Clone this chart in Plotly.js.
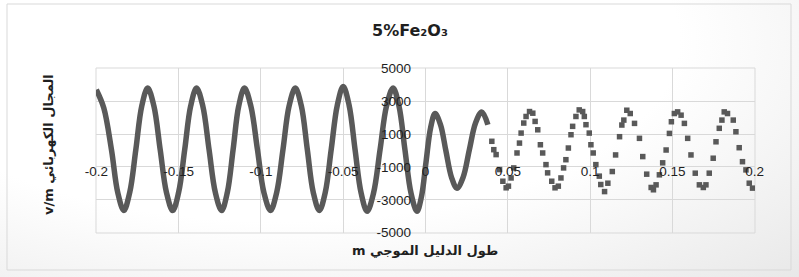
<!DOCTYPE html>
<html>
<head>
<meta charset="utf-8">
<script src="https://cdn.plot.ly/plotly-3.0.1.min.js"></script>
<style>
  html, body { margin: 0; padding: 0; background: #ffffff; }
  #chart { width: 799px; height: 277px;
    background: radial-gradient(ellipse 100% 130% at 35% 15%, #ffffff 50%, #e4e4e4 100%); }
</style>
</head>
<body>
<div id="chart"></div>
<script>
// ---- data ----
const chartTitle = '5%Fe₂O₃';
const xTitle = 'm طول الدليل الموجي';
const yTitle = 'v/m المجال الكهربائي';

const xTickVals = [-0.2, -0.15, -0.1, -0.05, 0, 0.05, 0.1, 0.15, 0.2];
const xTickText = ['-0.2', '-0.15', '-0.1', '-0.05', '0', '0.05', '0.1', '0.15', '0.2'];
const yTickVals = [-5000, -3000, -1000, 1000, 3000, 5000];
const yTickText = ['-5000', '-3000', '-1000', '1000', '3000', '5000'];

// dense part (drawn as continuous band)
const xDense = [-0.2000,-0.1955,-0.1908,-0.1870,-0.1833,-0.1797,-0.1760,-0.1724,-0.1688,-0.1650,-0.1612,-0.1574,-0.1536,-0.1500,-0.1463,-0.1427,-0.1391,-0.1353,-0.1315,-0.1277,-0.1239,-0.1204,-0.1169,-0.1135,-0.1100,-0.1061,-0.1021,-0.0982,-0.0942,-0.0904,-0.0866,-0.0829,-0.0791,-0.0754,-0.0718,-0.0682,-0.0645,-0.0609,-0.0573,-0.0536,-0.0500,-0.0464,-0.0428,-0.0391,-0.0355,-0.0316,-0.0276,-0.0237,-0.0197,-0.0161,-0.0125,-0.0088,-0.0052,-0.0025,0.0003,0.0031,0.0058,0.0091,0.0124,0.0158,0.0191,0.0229,0.0266,0.0304,0.0342,0.0379];
const yDense = [3700,2600,50,-2550,-3650,-2550,50,2700,3800,2700,50,-2550,-3650,-2550,50,2700,3800,2700,50,-2550,-3650,-2550,50,2700,3800,2700,50,-2550,-3650,-2550,50,2700,3800,2700,50,-2550,-3650,-2550,50,2750,3900,2750,50,-2600,-3700,-2600,50,2700,3800,2700,50,-2600,-3700,-2830,-725,1380,2250,1580,-25,-1630,-2300,-1620,25,1670,2350,1570];

// sparse part (individual square markers)
const xSparse = [0.0403,0.0415,0.0429,0.0450,0.0470,0.0490,0.0504,0.0520,0.0536,0.0556,0.0571,0.0581,0.0597,0.0611,0.0632,0.0652,0.0666,0.0682,0.0698,0.0712,0.0732,0.0742,0.0767,0.0787,0.0807,0.0823,0.0839,0.0853,0.0868,0.0884,0.0894,0.0914,0.0934,0.0955,0.0965,0.0975,0.0995,0.1005,0.1019,0.1035,0.1056,0.1065,0.1088,0.1108,0.1135,0.1155,0.1179,0.1193,0.1205,0.1223,0.1244,0.1270,0.1300,0.1320,0.1344,0.1371,0.1385,0.1401,0.1421,0.1441,0.1462,0.1482,0.1494,0.1512,0.1532,0.1553,0.1573,0.1593,0.1613,0.1639,0.1664,0.1688,0.1704,0.1724,0.1748,0.1765,0.1785,0.1801,0.1815,0.1835,0.1870,0.1886,0.1906,0.1926,0.1947,0.1967,0.1987];
const ySparse = [560,50,-250,-1160,-1870,-2270,-2170,-1670,-1060,-150,450,1060,1670,2070,2370,2270,1770,1260,350,-150,-860,-1360,-1870,-2270,-2170,-1670,-1060,-560,150,960,1470,2070,2470,2370,2070,1570,1060,350,-150,-860,-1560,-2070,-2500,-1990,-1280,-270,840,1550,1850,2450,2250,1650,740,-370,-1440,-2250,-2390,-2090,-1480,-750,30,1040,1750,2250,2350,2150,1650,740,-270,-1380,-2090,-2250,-2090,-1380,-470,530,1350,1850,2350,2250,1850,1140,170,-680,-1180,-1990,-2290];

// ---- chart ----
const markColor = '#595959';
const gridColor = '#d9d9d9';
const tickFont = { family: 'Liberation Sans, Arial, sans-serif', size: 13.5, color: '#1f1f1f' };
const titleFont = { family: 'DejaVu Sans, sans-serif', size: 13, color: '#1f1f1f' };

const traces = [
  { type: 'scatter', mode: 'lines', x: xDense, y: yDense,
    line: { color: markColor, width: 5.5, shape: 'spline', smoothing: 1 },
    hoverinfo: 'x+y', showlegend: false },
  { type: 'scatter', mode: 'markers', x: xSparse, y: ySparse,
    marker: { color: markColor, symbol: 'square', size: 5.5 },
    hoverinfo: 'x+y', showlegend: false }
];

const L = 96, R = 44, T = 68, B = 44;
const PW = 799 - L - R, PH = 277 - T - B;
function px2x(px) { return (px - L) / PW; }
function py2y(py) { return (277 - B - py) / PH; }

const layout = {
  width: 799, height: 277,
  margin: { l: L, r: R, t: T, b: B, pad: 0 },
  paper_bgcolor: 'rgba(0,0,0,0)',
  plot_bgcolor: 'rgba(0,0,0,0)',
  title: { text: '<b>' + chartTitle + '</b>', font: { family: 'DejaVu Sans, sans-serif', size: 16, color: '#1f1f1f' },
           xref: 'paper', x: px2x(410), xanchor: 'center', yref: 'container', y: 1 - 30 / 277, yanchor: 'middle' },
  xaxis: {
    range: [-0.2002, 0.2002], tickvals: xTickVals, ticktext: xTickText,
    showgrid: true, gridcolor: gridColor, gridwidth: 1,
    zeroline: false, showline: false, ticks: '',
    anchor: 'free', position: py2y(161), tickfont: tickFont, fixedrange: true
  },
  yaxis: {
    range: [-5020, 5020], tickvals: yTickVals, ticktext: yTickText,
    showgrid: true, gridcolor: gridColor, gridwidth: 1,
    zeroline: false, showline: false, ticks: '',
    anchor: 'free', position: px2x(411), tickfont: tickFont, fixedrange: true
  },
  shapes: [
    { type: 'rect', xref: 'paper', yref: 'paper', x0: 0, x1: 1, y0: 0, y1: 1,
      line: { color: gridColor, width: 1 }, layer: 'below' },
    { type: 'rect', xref: 'paper', yref: 'paper', x0: px2x(7), x1: px2x(791), y0: py2y(270), y1: py2y(4),
      line: { color: '#d9d9d9', width: 1 }, layer: 'below' }
  ],
  annotations: [
    { text: '<b>' + yTitle + '</b>', xref: 'paper', yref: 'paper', x: px2x(48), y: py2y(145),
      xanchor: 'center', yanchor: 'middle', textangle: -90, showarrow: false, font: titleFont },
    { text: '<b>' + xTitle + '</b>', xref: 'paper', yref: 'paper', x: px2x(425), y: py2y(250),
      xanchor: 'center', yanchor: 'middle', showarrow: false, font: titleFont }
  ]
};

Plotly.newPlot('chart', traces, layout, { displayModeBar: false, staticPlot: true });
</script>
</body>
</html>
